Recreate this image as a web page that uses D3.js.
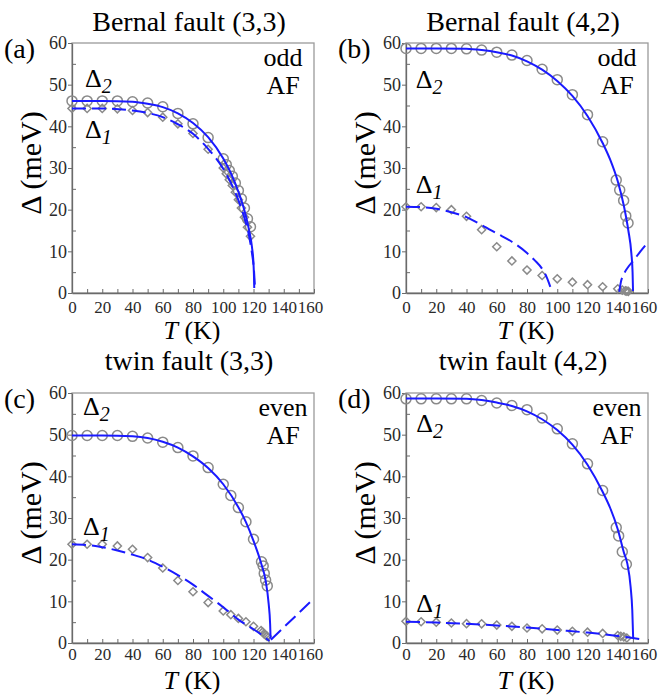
<!DOCTYPE html>
<html><head><meta charset="utf-8">
<script src="https://cdn.jsdelivr.net/npm/d3@7"></script>
<style>
body{margin:0;background:#fff}svg{display:block}
svg text{font-family:"Liberation Serif","Times New Roman",serif !important}
</style>
</head><body><svg id="chart" width="659" height="696"></svg>
<script>
// ---------- data ----------
const panelTitles = ["Bernal fault (3,3)", "Bernal fault (4,2)", "twin fault (3,3)", "twin fault (4,2)"];
const panelTags = ["(a)", "(b)", "(c)", "(d)"];
const parityLabels = ["odd", "odd", "even", "even"];
const orderLabels = ["AF", "AF", "AF", "AF"];
const xTickValues = [0, 20, 40, 60, 80, 100, 120, 140, 160];
const yTickValues = [0, 10, 20, 30, 40, 50, 60];

// (a) Bernal fault (3,3)
const aT2 = [0,10,20,30,40,50,60,70,80,90,100,102,104,106,108,110,112,114,116,118];
const aD2 = [46.1,46.1,46.1,46.1,45.9,45.6,44.7,43.1,40.6,37.3,32.2,30.8,29.4,28.0,26.4,24.6,22.6,20.4,17.8,15.9];
const aT1 = [0,10,20,30,40,50,60,70,80,90,100,102,104,106,108,110,112,114,116,118];
const aD1 = [44.3,44.3,44.3,44.2,43.8,43.3,42.2,40.6,38.3,34.5,30.0,28.6,27.2,25.8,24.2,22.4,20.4,18.2,15.8,13.6];
const aFitT2 = [0,20,40,50,60,70,80,90,100,105,110,114,117,119,120,120.4,120.5];
const aFitD2 = [46.1,46.1,45.9,45.4,44.6,43.1,40.8,37.4,32.3,28.8,24.3,19.8,15.2,11,7,3,1.2];
const aFitT1 = [0,20,40,50,60,70,80,90,100,105,110,114,117,119,120.3,121];
const aFitD1 = [44.3,44.3,43.8,43.2,42.2,40.5,38.2,34.6,29.8,26.5,22.3,18,13.8,9.5,5.5,1.2];

// (b) Bernal fault (4,2)
const bT2 = [0,10,20,30,40,50,60,70,80,90,100,110,120,130,139,141.3,143.9,145.3,146.8];
const bD2 = [58.7,58.7,58.7,58.7,58.6,58.3,57.8,57.1,55.8,53.7,51.2,47.6,42.8,36.3,27.1,24.7,22.2,18.5,16.8];
const bT1 = [0,10,20,30,40,50,60,70,80,90,100,110,120,130,140,143,145,146,147];
const bD1 = [20.7,20.7,20.5,20.0,18.4,15.2,11.1,7.7,5.5,4.2,3.4,2.6,2.0,1.5,1.0,0.7,0.5,0.45,0.4];
const bFitT2 = [0,20,40,50,60,70,80,90,100,110,120,130,135,140,144,147,149,149.8,150.1];
const bFitD2 = [58.7,58.7,58.6,58.3,57.8,57.0,55.6,53.6,50.9,47.3,42.5,36.0,32.0,26.8,21.0,15.0,9.5,5.0,0.5];
const bFitT1 = [0,10,20,30,40,50,60,70,80,85,90,93,95,96];
const bFitD1 = [20.7,20.6,20.2,19.4,18.2,16.3,14.3,12.3,9.6,7.9,5.8,3.8,1.9,0.9];
const bFitT1b = [141,142,144,147,150,155,160];
const bFitD1b = [0.3,2.5,4.5,6.3,7.6,10.0,12.2];

// (c) twin fault (3,3)
const cT2 = [0,10,20,30,40,50,60,70,80,90,100,105,110,115,120,125.3,126.4,127.1,128,129.1];
const cD2 = [49.8,49.8,49.8,49.8,49.6,49.2,48.2,46.9,44.9,42.1,38.1,35.4,32.5,29.1,24.9,19.5,18.5,16.7,15.1,13.7];
const cT1 = [0,10,20,30,40,50,60,70,80,90,100,105,110,115,120,125,126,127,128,129];
const cD1 = [23.7,23.7,23.7,23.3,22.5,20.5,18.0,15.0,12.3,9.7,7.7,6.8,5.9,5.1,4.0,3.0,2.6,2.2,1.9,1.6];
const cFitT2 = [0,20,40,50,60,70,80,90,100,110,115,120,125,128,130,131,131.3];
const cFitD2 = [49.8,49.8,49.6,49.2,48.3,46.9,44.8,42.0,38.1,32.6,29.0,24.5,19.2,15.0,9.5,4.5,1.0];
const cFitT1 = [0,10,20,30,40,50,60,70,80,90,100,110,120,126,130.5];
const cFitD1 = [23.7,23.5,23.0,22.2,21.2,20.0,18.3,16.3,14.0,11.3,8.6,5.6,3.3,1.8,0.5];
const cFitT1b = [131.5,160];
const cFitD1b = [0.8,10.7];

// (d) twin fault (4,2)
const dT2 = [0,10,20,30,40,50,60,70,80,90,100,110,120,130,139,140.6,143,145.7];
const dD2 = [58.6,58.6,58.6,58.6,58.6,58.2,57.6,57.0,56.0,54.0,51.4,47.8,43.0,36.6,27.7,25.7,21.9,18.9];
const dT1 = [0,10,20,30,40,50,60,70,80,90,100,110,120,130,140,142,144,146];
const dD1 = [5.2,5.1,5.0,4.8,4.65,4.6,4.3,4.0,3.6,3.4,3.1,2.8,2.6,2.3,1.8,1.6,1.45,1.2];
const dFitT2 = [0,20,40,50,60,70,80,90,100,110,120,130,135,140,144,146.3,148.5,149.6,150.2];
const dFitD2 = [58.7,58.7,58.6,58.3,57.7,56.9,55.6,53.7,51.1,47.6,42.8,36.3,32.4,27.3,21.8,19.1,13.5,7.9,1.1];
const dFitT1 = [0,20,40,60,80,100,120,140,150,158];
const dFitD1 = [5.1,4.9,4.6,4.2,3.7,3.1,2.5,1.7,1.2,0.7];

// label anchors in data units (T, Δ)
const lblD2T = [8.6, 6.4, 7.3, 6.8];
const lblD2V = [49.4, 49.2, 54.8, 50.7];
const lblD1T = [8.6, 6.4, 7.3, 6.8];
const lblD1V = [37.2, 23.9, 25.9, 7.4];

// ---------- assemble ----------
const zip = (xs, ys) => xs.map((x, i) => [x, ys[i]]);
const panels = [
  {circ: zip(aT2,aD2), diam: zip(aT1,aD1), solid: [zip(aFitT2,aFitD2)], dashed: [zip(aFitT1,aFitD1)]},
  {circ: zip(bT2,bD2), diam: zip(bT1,bD1), solid: [zip(bFitT2,bFitD2)], dashed: [zip(bFitT1,bFitD1), zip(bFitT1b,bFitD1b)]},
  {circ: zip(cT2,cD2), diam: zip(cT1,cD1), solid: [zip(cFitT2,cFitD2)], dashed: [zip(cFitT1,cFitD1), zip(cFitT1b,cFitD1b)]},
  {circ: zip(dT2,dD2), diam: zip(dT1,dD1), solid: [zip(dFitT2,dFitD2)], dashed: [zip(dFitT1,dFitD1)]}
];

const colX = [72, 406];
const rowY = [43, 393];
const titleBase = [31, 370];
const xTickPad = [8, 5];
const PW = 242, PH = 250;
const BLUE = "#1a1aff";
const GREY = "#8a8a8a";
const SERIF = "Liberation Serif";

const svg = d3.select("#chart");
svg.append("rect").attr("width", 659).attr("height", 696).attr("fill", "#fff");

panels.forEach((p, i) => {
  const row = Math.floor(i / 2);
  const L = colX[i % 2], T = rowY[row];
  const x = d3.scaleLinear().domain([0, 160]).range([L, L + PW]);
  const y = d3.scaleLinear().domain([0, 60]).range([T + PH, T]);
  const g = svg.append("g");

  g.append("rect").attr("x", L).attr("y", T).attr("width", PW).attr("height", PH)
    .attr("fill", "none").attr("stroke", "#9a9a9a").attr("stroke-width", 1.3);

  const yAx = g.append("g").attr("transform", `translate(${L},0)`)
    .call(d3.axisLeft(y).tickValues(yTickValues).tickSizeInner(4).tickSizeOuter(0).tickPadding(1));
  yAx.attr("font-family", null).attr("font-size", null);
  yAx.select(".domain").attr("stroke", "#6a6a6a").attr("stroke-width", 1.3);
  yAx.selectAll(".tick line").attr("stroke", "#6a6a6a");
  yAx.selectAll("text").style("font-family", SERIF).attr("font-size", 18).attr("fill", "#2a2a2a");
  const yMin = g.append("g").attr("transform", `translate(${L},0)`)
    .call(d3.axisRight(y).tickValues([5,15,25,35,45,55]).tickSizeInner(4).tickSizeOuter(0).tickFormat(""));
  yMin.select(".domain").remove();
  yMin.selectAll(".tick line").attr("stroke", "#6a6a6a");

  const xAx = g.append("g").attr("transform", `translate(0,${T + PH})`)
    .call(d3.axisBottom(x).tickValues(xTickValues).tickSizeInner(-4).tickSizeOuter(0).tickPadding(xTickPad[row]));
  xAx.attr("font-family", null).attr("font-size", null);
  xAx.select(".domain").attr("stroke", "#6a6a6a").attr("stroke-width", 1.3);
  xAx.selectAll(".tick line").attr("stroke", "#6a6a6a");
  xAx.selectAll("text").style("font-family", SERIF).attr("font-size", 17).attr("fill", "#2a2a2a")
    .attr("dx", d => d === 160 ? -4 : 0);
  const xMin = g.append("g").attr("transform", `translate(0,${T + PH})`)
    .call(d3.axisBottom(x).tickValues([10,30,50,70,90,110,130,150]).tickSizeInner(-4).tickSizeOuter(0).tickFormat(""));
  xMin.select(".domain").remove();
  xMin.selectAll(".tick line").attr("stroke", "#6a6a6a");

  g.selectAll(".circ").data(p.circ).join("circle")
    .attr("cx", d => x(d[0])).attr("cy", d => y(d[1])).attr("r", 5)
    .attr("fill", "none").attr("stroke", GREY).attr("stroke-width", 1.5);
  g.selectAll(".diam").data(p.diam).join("path")
    .attr("d", d3.symbol(d3.symbolDiamond2, 42))
    .attr("transform", d => `translate(${x(d[0])},${y(d[1])})`)
    .attr("fill", "none").attr("stroke", GREY).attr("stroke-width", 1.5);

  const line = d3.line().x(d => x(d[0])).y(d => y(d[1])).curve(d3.curveMonotoneX);
  p.solid.forEach(s => g.append("path").attr("d", line(s)).attr("fill", "none")
    .attr("stroke", BLUE).attr("stroke-width", 2));
  p.dashed.forEach(s => g.append("path").attr("d", line(s)).attr("fill", "none")
    .attr("stroke", BLUE).attr("stroke-width", 2).attr("stroke-dasharray", "14,6"));

  const txt = (xx, yy) => svg.append("text").attr("x", xx).attr("y", yy).style("font-family", SERIF);
  txt(L + 117, titleBase[row]).attr("text-anchor", "middle").attr("font-size", 28).text(panelTitles[i]);
  txt(L - 68, T + 15).attr("font-size", 28).text(panelTags[i]);
  txt(L + 211, T + 23).attr("text-anchor", "middle").attr("font-size", 26).text(parityLabels[i]);
  txt(L + 211, T + 51).attr("text-anchor", "middle").attr("font-size", 26).text(orderLabels[i]);

  const d2 = txt(x(lblD2T[i]), y(lblD2V[i])).attr("font-size", 26);
  d2.append("tspan").text("Δ");
  d2.append("tspan").attr("font-style", "italic").attr("font-size", 20).attr("dy", 6).text("2");
  const d1 = txt(x(lblD1T[i]), y(lblD1V[i])).attr("font-size", 26);
  d1.append("tspan").text("Δ");
  d1.append("tspan").attr("font-style", "italic").attr("font-size", 20).attr("dy", 6).text("1");

  svg.append("text").attr("transform", `translate(${L - 42},${T + 120}) rotate(-90)`)
    .attr("text-anchor", "middle").attr("dy", "0.35em").style("font-family", SERIF).attr("font-size", 30)
    .text("Δ (meV)");
  const xl = txt(L + 120, T + 296).attr("text-anchor", "middle").attr("font-size", 26);
  xl.append("tspan").attr("font-style", "italic").text("T");
  xl.append("tspan").text(" (K)");
});
</script>
</body></html>
